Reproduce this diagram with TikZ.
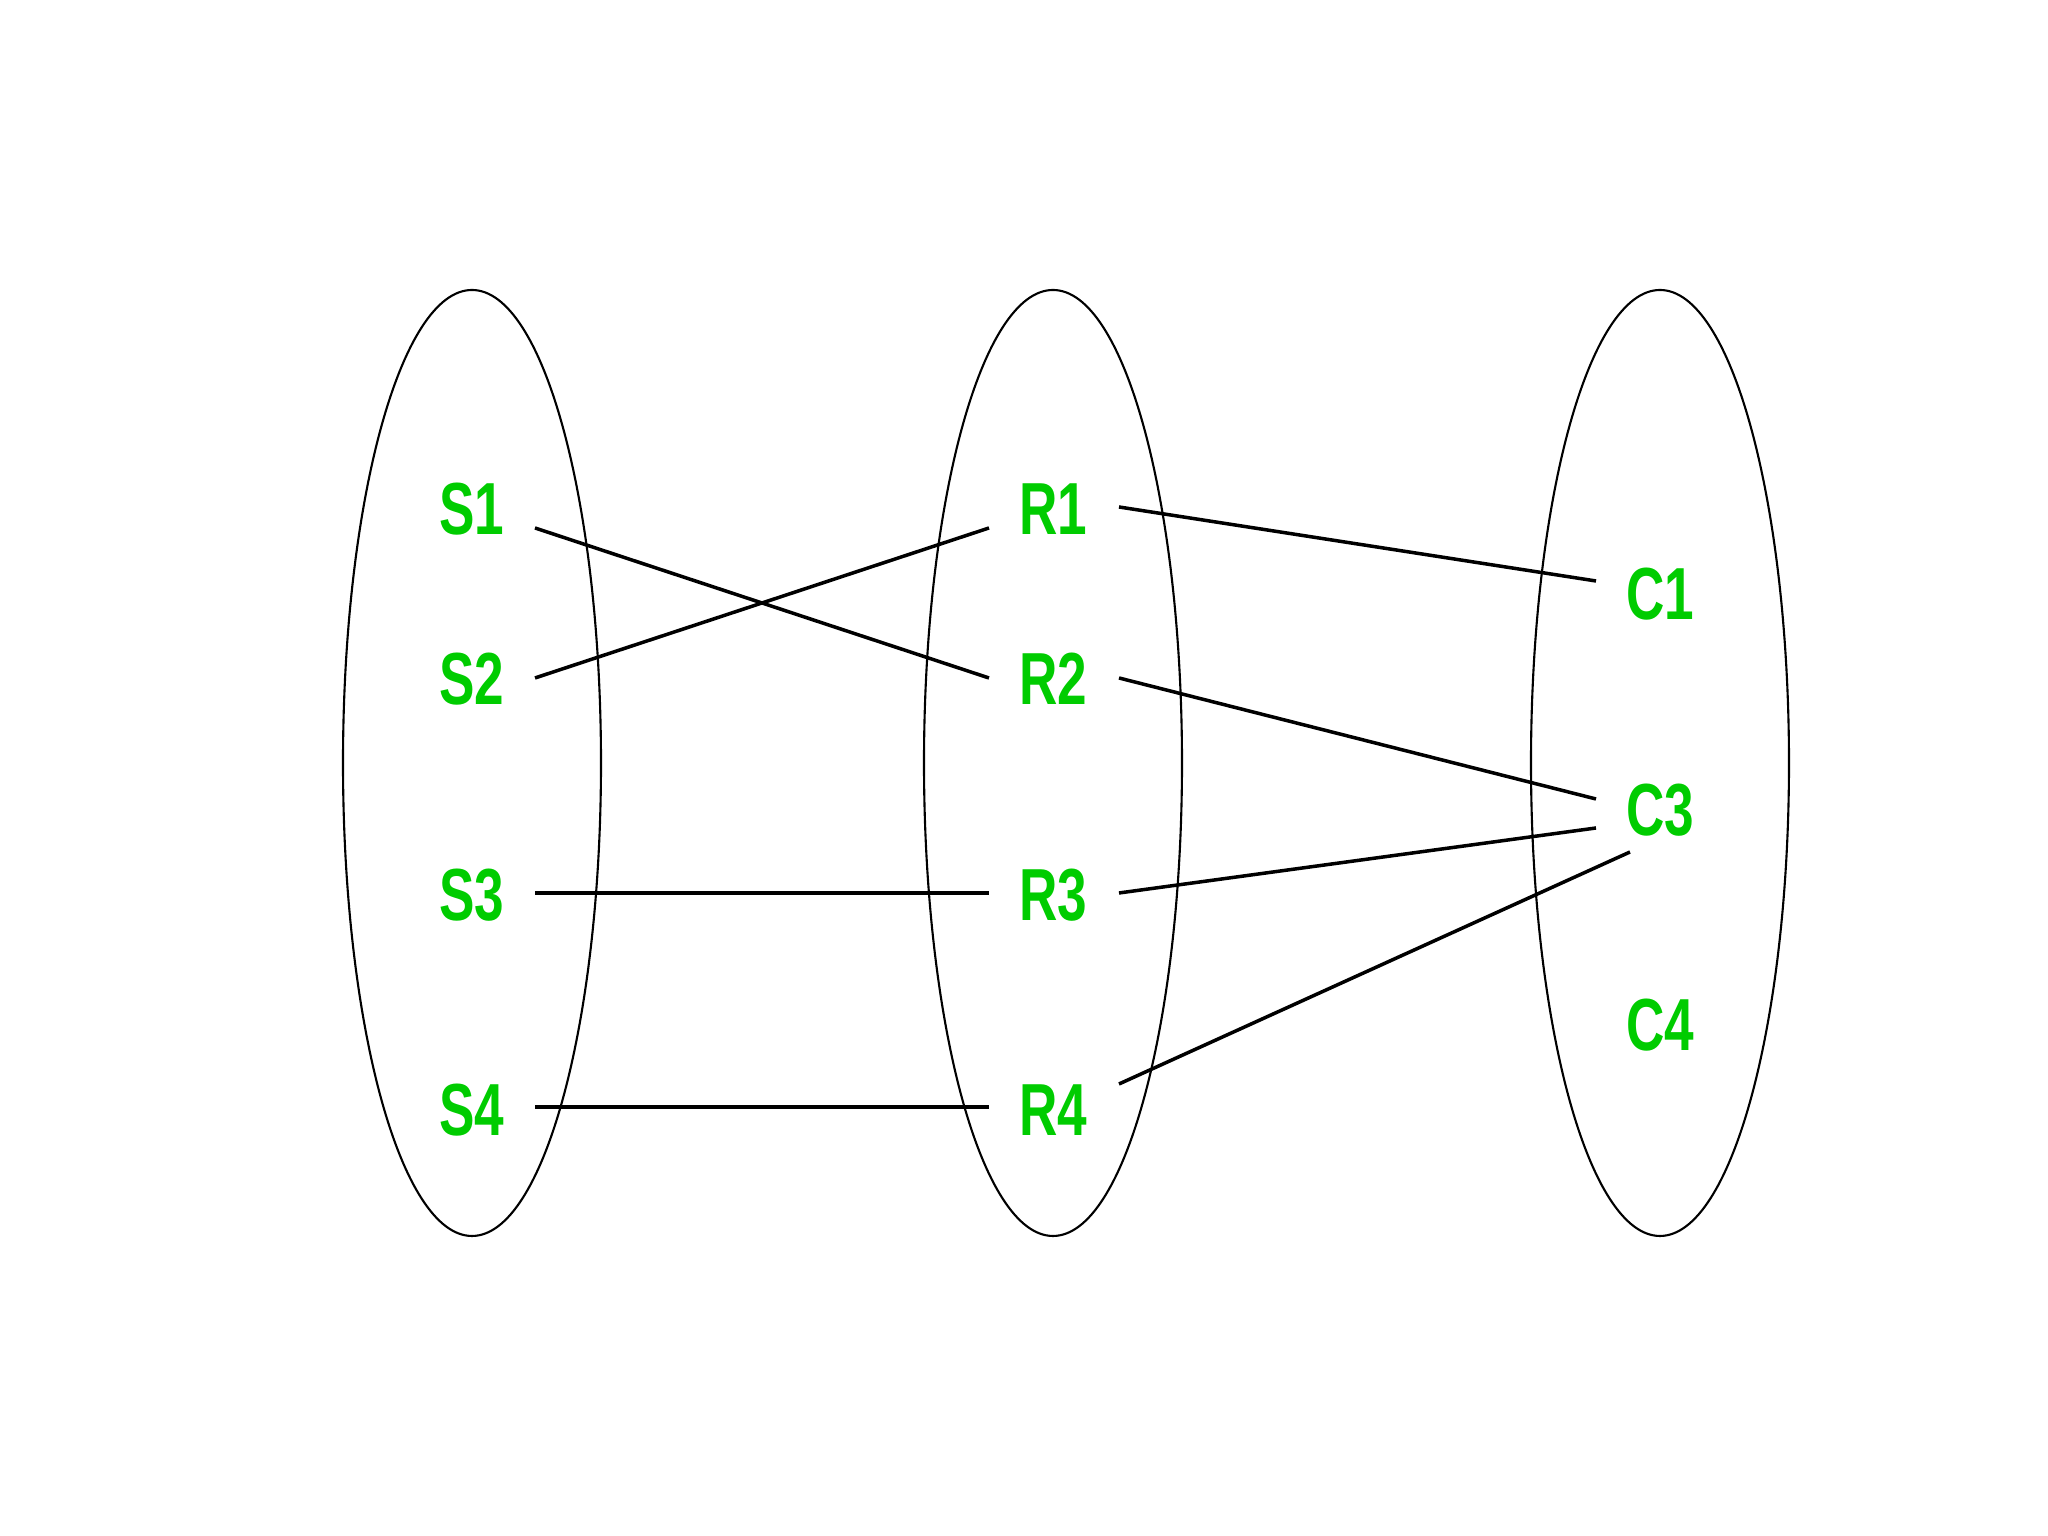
\documentclass[tikz,border=0pt]{standalone}
\usepackage{fontspec}
\newfontfamily\tagfont[FakeStretch=0.72]{Liberation Sans}
\usepackage{tikz}
\usetikzlibrary{positioning}
\definecolor{tagGreen}{RGB}{0,204,0}

\begin{document}
\begin{tikzpicture}[
  set/.style={draw,line width=0.6pt},
  tag/.style={text=tagGreen,font=\tagfont\bfseries\fontsize{21}{21}\selectfont,inner sep=1pt},
  link/.style={line width=1pt}
]
\useasboundingbox[fill=white] (0,0) rectangle (20.48,15.36);
\draw[set] (4.72,7.73) ellipse (1.29 and 4.73);
\draw[set] (10.53,7.73) ellipse (1.29 and 4.73);
\draw[set] (16.60,7.73) ellipse (1.29 and 4.73);
\node[tag] (S1) at (4.72,10.27) {S1};
\node[tag] (S2) at (4.72,8.57) {S2};
\node[tag] (S3) at (4.72,6.41) {S3};
\node[tag] (S4) at (4.72,4.26) {S4};
\node[tag] (R1) at (10.53,10.27) {R1};
\node[tag] (R2) at (10.53,8.57) {R2};
\node[tag] (R3) at (10.53,6.41) {R3};
\node[tag] (R4) at (10.53,4.26) {R4};
\node[tag] (C1) at (16.60,9.42) {C1};
\node[tag] (C3) at (16.60,7.26) {C3};
\node[tag] (C4) at (16.60,5.11) {C4};
% line ends next to the labels
\coordinate (s1) at (5.35,10.08);
\coordinate (s2) at (5.35,8.58);
\coordinate (s3) at (5.35,6.43);
\coordinate (s4) at (5.35,4.29);
\coordinate (r1in) at (9.89,10.08);
\coordinate (r2in) at (9.89,8.58);
\coordinate (r3in) at (9.89,6.43);
\coordinate (r4in) at (9.89,4.29);
\coordinate (r1out) at (11.19,10.29);
\coordinate (r2out) at (11.19,8.58);
\coordinate (r3out) at (11.19,6.43);
\coordinate (r4out) at (11.19,4.52);
\coordinate (c1a) at (15.96,9.55);
\coordinate (c3a) at (15.96,7.37);
\coordinate (c3b) at (15.96,7.08);
\coordinate (c3c) at (16.30,6.84);
\draw[link] (s1) -- (r2in);
\draw[link] (s2) -- (r1in);
\draw[link] (s3) -- (r3in);
\draw[link] (s4) -- (r4in);
\draw[link] (r1out) -- (c1a);
\draw[link] (r2out) -- (c3a);
\draw[link] (r3out) -- (c3b);
\draw[link] (r4out) -- (c3c);
\end{tikzpicture}
\end{document}
